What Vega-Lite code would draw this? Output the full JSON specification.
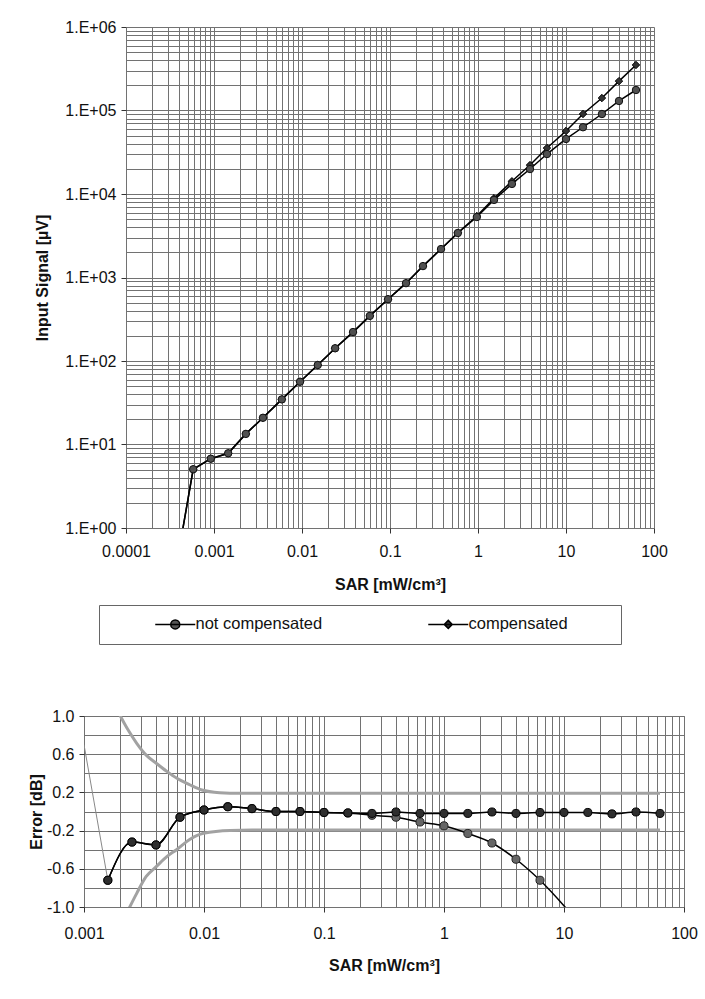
{
  "$schema": "https://vega.github.io/schema/vega-lite/v6.json",
  "padding": {"left": 27, "top": 19, "right": 5, "bottom": 5},
  "background": "white",
  "spacing": 115,
  "config": {
    "font": "Liberation Sans",
    "view": {"stroke": "#777"},
    "axis": {
      "labelFont": "Liberation Sans", "labelFontSize": 16, "labelColor": "#111",
      "titleFont": "Liberation Sans", "titleFontSize": 16, "titleFontWeight": "bold", "titleColor": "#111",
      "gridColor": "#727272", "gridOpacity": 1, "gridWidth": 1,
      "tickColor": "#333", "tickSize": 5, "domain": false, "labelFlush": false, "labelOverlap": false
    }
  },
  "datasets": {
    "top": [
      {"sar": 0.000364, "signal": 0.3, "series": "not compensated"},
      {"sar": 0.00058, "signal": 5.05, "series": "not compensated"},
      {"sar": 0.00092, "signal": 6.76, "series": "not compensated"},
      {"sar": 0.00145, "signal": 7.85, "series": "not compensated"},
      {"sar": 0.0023, "signal": 13.4, "series": "not compensated"},
      {"sar": 0.0036, "signal": 20.9, "series": "not compensated"},
      {"sar": 0.0059, "signal": 34.7, "series": "not compensated"},
      {"sar": 0.0095, "signal": 56.5, "series": "not compensated"},
      {"sar": 0.0151, "signal": 89.5, "series": "not compensated"},
      {"sar": 0.0238, "signal": 142, "series": "not compensated"},
      {"sar": 0.038, "signal": 222, "series": "not compensated"},
      {"sar": 0.059, "signal": 347, "series": "not compensated"},
      {"sar": 0.095, "signal": 550, "series": "not compensated"},
      {"sar": 0.152, "signal": 855, "series": "not compensated"},
      {"sar": 0.237, "signal": 1370, "series": "not compensated"},
      {"sar": 0.38, "signal": 2190, "series": "not compensated"},
      {"sar": 0.59, "signal": 3410, "series": "not compensated"},
      {"sar": 0.97, "signal": 5300, "series": "not compensated"},
      {"sar": 1.52, "signal": 8500, "series": "not compensated"},
      {"sar": 2.43, "signal": 13200, "series": "not compensated"},
      {"sar": 3.9, "signal": 19900, "series": "not compensated"},
      {"sar": 6.08, "signal": 30100, "series": "not compensated"},
      {"sar": 10, "signal": 45600, "series": "not compensated"},
      {"sar": 15.6, "signal": 63000, "series": "not compensated"},
      {"sar": 25.6, "signal": 90800, "series": "not compensated"},
      {"sar": 40, "signal": 130000, "series": "not compensated"},
      {"sar": 62.4, "signal": 176000, "series": "not compensated"},
      {"sar": 0.000364, "signal": 0.3, "series": "compensated"},
      {"sar": 0.00058, "signal": 5.05, "series": "compensated"},
      {"sar": 0.00092, "signal": 6.76, "series": "compensated"},
      {"sar": 0.00145, "signal": 7.85, "series": "compensated"},
      {"sar": 0.0023, "signal": 13.4, "series": "compensated"},
      {"sar": 0.0036, "signal": 20.9, "series": "compensated"},
      {"sar": 0.0059, "signal": 34.7, "series": "compensated"},
      {"sar": 0.0095, "signal": 56.5, "series": "compensated"},
      {"sar": 0.0151, "signal": 89.5, "series": "compensated"},
      {"sar": 0.0238, "signal": 142, "series": "compensated"},
      {"sar": 0.038, "signal": 222, "series": "compensated"},
      {"sar": 0.059, "signal": 347, "series": "compensated"},
      {"sar": 0.095, "signal": 550, "series": "compensated"},
      {"sar": 0.152, "signal": 855, "series": "compensated"},
      {"sar": 0.237, "signal": 1370, "series": "compensated"},
      {"sar": 0.38, "signal": 2190, "series": "compensated"},
      {"sar": 0.59, "signal": 3440, "series": "compensated"},
      {"sar": 0.97, "signal": 5450, "series": "compensated"},
      {"sar": 1.52, "signal": 8900, "series": "compensated"},
      {"sar": 2.43, "signal": 14200, "series": "compensated"},
      {"sar": 3.9, "signal": 22200, "series": "compensated"},
      {"sar": 6.08, "signal": 35500, "series": "compensated"},
      {"sar": 10, "signal": 56800, "series": "compensated"},
      {"sar": 15.6, "signal": 90800, "series": "compensated"},
      {"sar": 25.6, "signal": 141000, "series": "compensated"},
      {"sar": 40, "signal": 225000, "series": "compensated"},
      {"sar": 62.4, "signal": 351000, "series": "compensated"}
    ],
    "bottom": [
      {"sar": 0.00193, "err": 1.04, "series": "upper"},
      {"sar": 0.00234, "err": 0.85, "series": "upper"},
      {"sar": 0.00275, "err": 0.714, "series": "upper"},
      {"sar": 0.0033, "err": 0.59, "series": "upper"},
      {"sar": 0.004, "err": 0.505, "series": "upper"},
      {"sar": 0.0049, "err": 0.42, "series": "upper"},
      {"sar": 0.0059, "err": 0.35, "series": "upper"},
      {"sar": 0.0076, "err": 0.28, "series": "upper"},
      {"sar": 0.0096, "err": 0.225, "series": "upper"},
      {"sar": 0.0135, "err": 0.197, "series": "upper"},
      {"sar": 0.02, "err": 0.19, "series": "upper"},
      {"sar": 63.1, "err": 0.19, "series": "upper"},
      {"sar": 0.00234, "err": -1.03, "series": "lower"},
      {"sar": 0.00275, "err": -0.857, "series": "lower"},
      {"sar": 0.0033, "err": -0.68, "series": "lower"},
      {"sar": 0.004, "err": -0.578, "series": "lower"},
      {"sar": 0.0049, "err": -0.473, "series": "lower"},
      {"sar": 0.0059, "err": -0.4, "series": "lower"},
      {"sar": 0.0076, "err": -0.293, "series": "lower"},
      {"sar": 0.0099, "err": -0.228, "series": "lower"},
      {"sar": 0.0165, "err": -0.198, "series": "lower"},
      {"sar": 0.025, "err": -0.195, "series": "lower"},
      {"sar": 63.1, "err": -0.195, "series": "lower"},
      {"sar": 0.001, "err": 0.7, "series": "lead"},
      {"sar": 0.00158, "err": -0.72, "series": "lead"},
      {"sar": 0.00158, "err": -0.72, "series": "not compensated"},
      {"sar": 0.00251, "err": -0.32, "series": "not compensated"},
      {"sar": 0.00398, "err": -0.35, "series": "not compensated"},
      {"sar": 0.00631, "err": -0.06, "series": "not compensated"},
      {"sar": 0.01, "err": 0.016, "series": "not compensated"},
      {"sar": 0.0158, "err": 0.05, "series": "not compensated"},
      {"sar": 0.0251, "err": 0.03, "series": "not compensated"},
      {"sar": 0.0398, "err": 0.0, "series": "not compensated"},
      {"sar": 0.0631, "err": 0.0, "series": "not compensated"},
      {"sar": 0.1, "err": -0.01, "series": "not compensated"},
      {"sar": 0.158, "err": -0.015, "series": "not compensated"},
      {"sar": 0.251, "err": -0.04, "series": "not compensated"},
      {"sar": 0.398, "err": -0.06, "series": "not compensated"},
      {"sar": 0.631, "err": -0.11, "series": "not compensated"},
      {"sar": 1, "err": -0.15, "series": "not compensated"},
      {"sar": 1.58, "err": -0.23, "series": "not compensated"},
      {"sar": 2.51, "err": -0.33, "series": "not compensated"},
      {"sar": 3.98, "err": -0.5, "series": "not compensated"},
      {"sar": 6.31, "err": -0.72, "series": "not compensated"},
      {"sar": 15.8, "err": -1.28, "series": "not compensated"},
      {"sar": 0.00158, "err": -0.72, "series": "compensated"},
      {"sar": 0.00251, "err": -0.32, "series": "compensated"},
      {"sar": 0.00398, "err": -0.35, "series": "compensated"},
      {"sar": 0.00631, "err": -0.06, "series": "compensated"},
      {"sar": 0.01, "err": 0.016, "series": "compensated"},
      {"sar": 0.0158, "err": 0.05, "series": "compensated"},
      {"sar": 0.0251, "err": 0.03, "series": "compensated"},
      {"sar": 0.0398, "err": 0.0, "series": "compensated"},
      {"sar": 0.0631, "err": 0.0, "series": "compensated"},
      {"sar": 0.1, "err": -0.01, "series": "compensated"},
      {"sar": 0.158, "err": -0.015, "series": "compensated"},
      {"sar": 0.251, "err": -0.02, "series": "compensated"},
      {"sar": 0.398, "err": -0.005, "series": "compensated"},
      {"sar": 0.631, "err": -0.02, "series": "compensated"},
      {"sar": 1, "err": -0.02, "series": "compensated"},
      {"sar": 1.58, "err": -0.02, "series": "compensated"},
      {"sar": 2.51, "err": -0.005, "series": "compensated"},
      {"sar": 3.98, "err": -0.02, "series": "compensated"},
      {"sar": 6.31, "err": -0.01, "series": "compensated"},
      {"sar": 10, "err": -0.01, "series": "compensated"},
      {"sar": 15.8, "err": -0.01, "series": "compensated"},
      {"sar": 25.1, "err": -0.025, "series": "compensated"},
      {"sar": 39.8, "err": -0.005, "series": "compensated"},
      {"sar": 63.1, "err": -0.02, "series": "compensated"}
    ]
  },
  "vconcat": [
    {
      "width": 570,
      "height": 501,
      "view": {"stroke": null},
      "data": {"name": "top"},
      "encoding": {
        "x": {
          "field": "sar", "type": "quantitative",
          "scale": {"type": "log", "domain": [0.0001, 100], "range": [42, 570], "nice": false},
          "axis": {
            "title": "SAR [mW/cm³]",
            "values": [0.0001,0.0002,0.0003,0.0004,0.0005,0.0006,0.0007,0.0008,0.0009,0.001,0.002,0.003,0.004,0.005,0.006,0.007,0.008,0.009,0.01,0.02,0.03,0.04,0.05,0.06,0.07,0.08,0.09,0.1,0.2,0.3,0.4,0.5,0.6,0.7,0.8,0.9,1,2,3,4,5,6,7,8,9,10,20,30,40,50,60,70,80,90,100],
            "labelExpr": "indexof([0.0001,0.001,0.01,0.1,1,10,100], datum.value) >= 0 ? toString(datum.value) : ''",
            "tickOpacity": {"condition": {"test": "indexof([0.0001,0.001,0.01,0.1,1,10,100], datum.value) >= 0", "value": 1}, "value": 0},
            "labelPadding": 10,
            "titlePadding": 17
          }
        },
        "y": {
          "field": "signal", "type": "quantitative",
          "scale": {"type": "log", "domain": [1, 1000000], "nice": false},
          "axis": {
            "title": "Input Signal [µV]",
            "offset": -42,
            "values": [1,2,3,4,5,6,7,8,9,10,20,30,40,50,60,70,80,90,100,200,300,400,500,600,700,800,900,1000,2000,3000,4000,5000,6000,7000,8000,9000,10000,20000,30000,40000,50000,60000,70000,80000,90000,100000,200000,300000,400000,500000,600000,700000,800000,900000,1000000],
            "labelExpr": "indexof([1,10,100,1000,10000,100000,1000000], datum.value) >= 0 ? '1.E+0' + toString(round(log(datum.value) / LN10)) : ''",
            "tickOpacity": {"condition": {"test": "indexof([1,10,100,1000,10000,100000,1000000], datum.value) >= 0", "value": 1}, "value": 0},
            "labelPadding": 5,
            "titlePadding": 14
          }
        }
      },
      "layer": [
        {
          "mark": {"type": "line", "clip": true, "strokeWidth": 1.5},
          "encoding": {
            "color": {
              "field": "series", "type": "nominal",
              "scale": {"domain": ["not compensated", "compensated"], "range": ["#000000", "#000000"]},
              "legend": {
                "title": "\u00a0",
                "titleOrient": "right",
                "titlePadding": 42,
                "titleFontSize": 11,
                "orient": "none",
                "legendX": 15,
                "legendY": 578,
                "direction": "horizontal",
                "columns": 2,
                "strokeColor": "#666",
                "padding": 11,
                "labelFont": "Liberation Sans",
                "labelFontSize": 16.5,
                "labelColor": "#111",
                "labelOffset": 12,
                "symbolSize": 100,
                "symbolOffset": 57,
                "columnPadding": 60,
                "symbolStrokeWidth": 1.5,
                "encode": {
                  "symbols": {
                    "update": {
                      "shape": {"signal": "datum.value === 'compensated' ? 'M-4,0L4,0M0,-0.8L0.8,0L0,0.8L-0.8,0Z' : 'M-4,0L4,0M0.9,0A0.9,0.9,0,1,1,-0.9,0A0.9,0.9,0,1,1,0.9,0Z'"},
                      "fill": {"signal": "datum.value === 'compensated' ? '#333333' : '#555555'"},
                      "fillOpacity": {"value": 1},
                      "stroke": {"value": "#000000"},
                      "strokeWidth": {"value": 1.5},
                      "opacity": {"value": 1}
                    }
                  }
                }
              }
            }
          }
        },
        {
          "transform": [{"filter": "datum.series === 'compensated'"}],
          "mark": {"type": "point", "shape": "diamond", "filled": true, "fill": "#333333", "stroke": "#000000", "strokeWidth": 1, "size": 55, "opacity": 1, "clip": true}
        },
        {
          "transform": [{"filter": "datum.series === 'not compensated'"}],
          "mark": {"type": "point", "shape": "circle", "filled": true, "fill": "#505050", "stroke": "#111111", "strokeWidth": 1, "size": 55, "opacity": 1, "clip": true}
        }
      ]
    },
    {
      "width": 600,
      "height": 191,
      "data": {"name": "bottom"},
      "encoding": {
        "x": {
          "field": "sar", "type": "quantitative",
          "scale": {"type": "log", "domain": [0.001, 100], "nice": false},
          "axis": {
            "title": "SAR [mW/cm³]",
            "values": [0.001,0.002,0.003,0.004,0.005,0.006,0.007,0.008,0.009,0.01,0.02,0.03,0.04,0.05,0.06,0.07,0.08,0.09,0.1,0.2,0.3,0.4,0.5,0.6,0.7,0.8,0.9,1,2,3,4,5,6,7,8,9,10,20,30,40,50,60,70,80,90,100],
            "labelExpr": "indexof([0.001,0.01,0.1,1,10,100], datum.value) >= 0 ? toString(datum.value) : ''",
            "tickOpacity": {"condition": {"test": "indexof([0.001,0.01,0.1,1,10,100], datum.value) >= 0", "value": 1}, "value": 0},
            "labelPadding": 13,
            "titlePadding": 16
          }
        },
        "y": {
          "field": "err", "type": "quantitative",
          "scale": {"domain": [-1, 1], "nice": false, "zero": false},
          "axis": {
            "title": "Error [dB]",
            "values": [-1,-0.8,-0.6,-0.4,-0.2,0,0.2,0.4,0.6,0.8,1],
            "labelExpr": "indexof([-1,-0.6,-0.2,0.2,0.6,1], datum.value) >= 0 ? (datum.value < 0 ? '-' + format(-datum.value, '.1f') : format(datum.value, '.1f')) : ''",
            "tickOpacity": {"condition": {"test": "indexof([-1,-0.6,-0.2,0.2,0.6,1], datum.value) >= 0", "value": 1}, "value": 0},
            "labelPadding": 5,
            "titlePadding": 2
          }
        }
      },
      "layer": [
        {
          "transform": [{"filter": "datum.series === 'upper' || datum.series === 'lower'"}],
          "mark": {"type": "line", "clip": true, "stroke": "#a2a2a2", "strokeWidth": 3, "interpolate": "monotone"},
          "encoding": {"detail": {"field": "series"}}
        },
        {
          "transform": [{"filter": "datum.series === 'lead'"}],
          "mark": {"type": "line", "clip": true, "stroke": "#888888", "strokeWidth": 1},
          "encoding": {}
        },
        {
          "transform": [{"filter": "datum.series === 'compensated' || datum.series === 'not compensated'"}],
          "mark": {"type": "line", "clip": true, "stroke": "#000000", "strokeWidth": 1.5, "interpolate": "monotone"},
          "encoding": {"detail": {"field": "series"}}
        },
        {
          "transform": [{"filter": "datum.series === 'not compensated'"}],
          "mark": {"type": "point", "shape": "circle", "filled": true, "fill": "#666666", "stroke": "#222222", "strokeWidth": 1, "size": 65, "opacity": 1, "clip": true}
        },
        {
          "transform": [{"filter": "datum.series === 'compensated'"}],
          "mark": {"type": "point", "shape": "circle", "filled": true, "fill": "#2e2e2e", "stroke": "#000000", "strokeWidth": 1, "size": 65, "opacity": 1, "clip": true}
        }
      ]
    }
  ]
}
